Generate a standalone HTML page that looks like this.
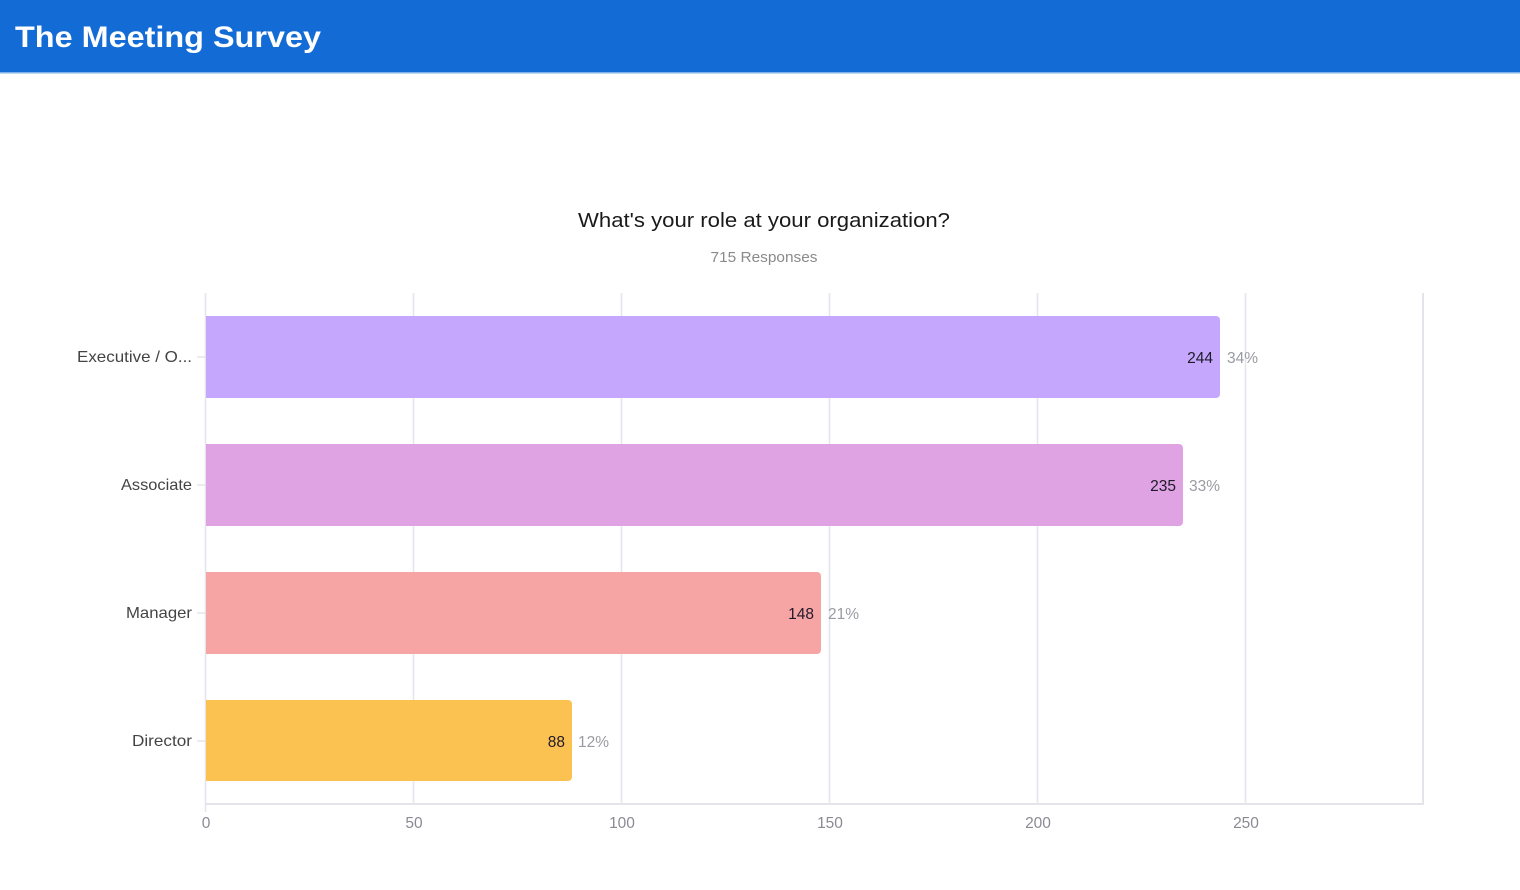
<!DOCTYPE html>
<html><head><meta charset="utf-8"><style>
html,body{margin:0;padding:0;background:#fff;width:1520px;height:890px;overflow:hidden}
svg{display:block}
text{font-family:"Liberation Sans",sans-serif}
</style></head><body>
<svg width="1520" height="890" viewBox="0 0 1520 890" xmlns="http://www.w3.org/2000/svg">
<rect x="0" y="0" width="1520" height="72" fill="#136bd6"/>
<rect x="0" y="72" width="1520" height="1.5" fill="#7fb0ea"/>
<text x="15" y="47" font-size="30" font-weight="bold" fill="#fff" textLength="306" lengthAdjust="spacingAndGlyphs">The Meeting Survey</text>

<text x="764" y="227" font-size="20" fill="#1a1a1a" text-anchor="middle" textLength="372" lengthAdjust="spacingAndGlyphs">What's your role at your organization?</text>
<text x="764" y="262" font-size="14.5" fill="#8a8a8a" text-anchor="middle" textLength="107" lengthAdjust="spacingAndGlyphs">715 Responses</text>

<!-- grid -->
<g stroke="#e4e4ea" stroke-width="1.5">
<line x1="413.5" y1="293" x2="413.5" y2="804"/>
<line x1="621.5" y1="293" x2="621.5" y2="804"/>
<line x1="829.5" y1="293" x2="829.5" y2="804"/>
<line x1="1037.5" y1="293" x2="1037.5" y2="804"/>
<line x1="1245.5" y1="293" x2="1245.5" y2="804"/>
<line x1="1423" y1="293" x2="1423" y2="805" stroke-width="2"/>
<line x1="205" y1="804" x2="1424" y2="804" stroke-width="2"/>
<line x1="205.5" y1="293" x2="205.5" y2="812"/>
<line x1="197" y1="357" x2="205" y2="357"/>
<line x1="197" y1="485" x2="205" y2="485"/>
<line x1="197" y1="613" x2="205" y2="613"/>
<line x1="197" y1="741" x2="205" y2="741"/>
</g>

<!-- bars -->
<path d="M206 316 H1216 a4 4 0 0 1 4 4 V394 a4 4 0 0 1 -4 4 H206 Z" fill="#c5a8fd"/>
<path d="M206 444 H1179 a4 4 0 0 1 4 4 V522 a4 4 0 0 1 -4 4 H206 Z" fill="#dfa3e3"/>
<path d="M206 572 H817 a4 4 0 0 1 4 4 V650 a4 4 0 0 1 -4 4 H206 Z" fill="#f7a5a4"/>
<path d="M206 700 H568 a4 4 0 0 1 4 4 V777 a4 4 0 0 1 -4 4 H206 Z" fill="#fcc251"/>

<!-- category labels -->
<g font-size="16" fill="#444" text-anchor="end">
<text x="192" y="362" textLength="115" lengthAdjust="spacingAndGlyphs">Executive / O...</text>
<text x="192" y="490" textLength="71" lengthAdjust="spacingAndGlyphs">Associate</text>
<text x="192" y="618" textLength="66" lengthAdjust="spacingAndGlyphs">Manager</text>
<text x="192" y="746" textLength="60" lengthAdjust="spacingAndGlyphs">Director</text>
</g>

<!-- values -->
<g font-size="15.5" fill="#1f1a2a" text-anchor="end">
<text x="1213" y="363">244</text>
<text x="1176" y="491">235</text>
<text x="814" y="619">148</text>
<text x="565" y="747">88</text>
</g>
<g font-size="15.5" fill="#9a9aa3">
<text x="1227" y="363">34%</text>
<text x="1189" y="491">33%</text>
<text x="828" y="619">21%</text>
<text x="578" y="747">12%</text>
</g>

<!-- x ticks -->
<g font-size="15.5" fill="#8a8a94" text-anchor="middle">
<text x="206" y="828">0</text>
<text x="414" y="828">50</text>
<text x="622" y="828">100</text>
<text x="830" y="828">150</text>
<text x="1038" y="828">200</text>
<text x="1246" y="828">250</text>
</g>
</svg>
</body></html>
